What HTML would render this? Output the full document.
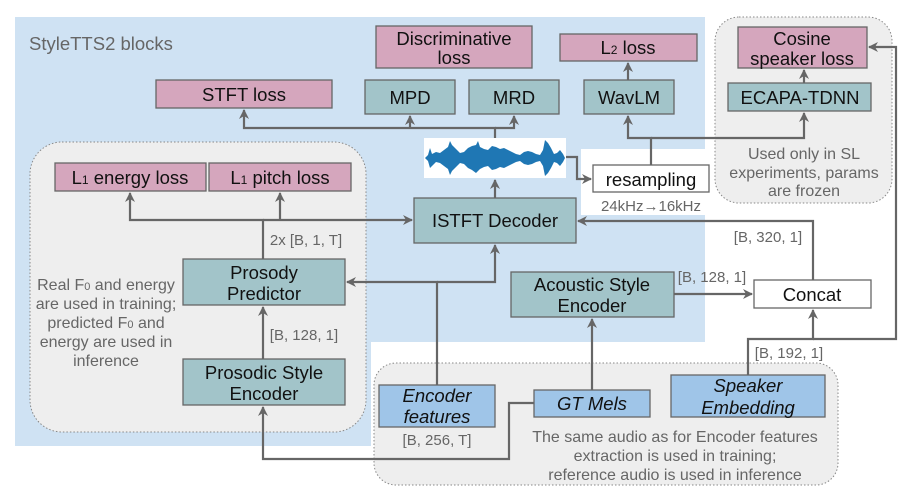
<!DOCTYPE html>
<html><head><meta charset="utf-8"><style>
body{margin:0;background:#fff}
svg{display:block;font-family:"Liberation Sans",sans-serif}
.b{stroke:#666;stroke-width:1.3}
.l{stroke:#666;stroke-width:2.2;fill:none}
.t{font-size:18.5px;fill:#111;text-anchor:middle}
.g{font-size:16px;fill:#666;text-anchor:middle}
.s{font-size:15px;fill:#666;text-anchor:middle}
</style></head><body>
<svg width="914" height="499" viewBox="0 0 914 499">
<defs><marker id="a" markerWidth="10" markerHeight="10" refX="9" refY="5" orient="auto" markerUnits="userSpaceOnUse"><path d="M0,0 L10,5 L0,10 L3,5 z" fill="#666"/></marker></defs>
<path d="M15,17 H705 V149 H581 V215 H705 V342 H371 V446 H15 Z" fill="#cfe2f3"/>
<rect x="30" y="142" width="336" height="290" rx="32" fill="#eeeeee" stroke="#888" stroke-dasharray="1.5 2"/>
<rect x="374" y="363" width="464" height="122" rx="22" fill="#eeeeee" stroke="#888" stroke-dasharray="1.5 2"/>
<rect x="715" y="17" width="177" height="186" rx="24" fill="#eeeeee" stroke="#888" stroke-dasharray="1.5 2"/>
<text x="29" y="50" style="font-size:18.5px;fill:#666">StyleTTS2 blocks</text>

<!-- connectors -->
<path class="l" d="M495,139 V128 H244 V110" marker-end="url(#a)"/>
<path class="l" d="M410,128 V116" marker-end="url(#a)"/>
<path class="l" d="M495,128 H514 V116" marker-end="url(#a)"/>
<path class="l" d="M495,198 V180" marker-end="url(#a)"/>
<path class="l" d="M565,157 H577 V179 H591" marker-end="url(#a)"/>
<path class="l" d="M651,165 V138 H628 V116" marker-end="url(#a)"/>
<path class="l" d="M651,138 H804 V113" marker-end="url(#a)"/>
<path class="l" d="M628,80 V63" marker-end="url(#a)"/>
<path class="l" d="M804,83 V70" marker-end="url(#a)"/>
<path class="l" d="M813,280 V221 H578" marker-end="url(#a)"/>
<path class="l" d="M748,375 V339 H813 V310" marker-end="url(#a)"/>
<path class="l" d="M813,339 H896 V47 H869" marker-end="url(#a)"/>
<path class="l" d="M674,294 H752" marker-end="url(#a)"/>
<path class="l" d="M592,390 V319" marker-end="url(#a)"/>
<path class="l" d="M534,403 H509 V459 H263 V407" marker-end="url(#a)"/>
<path class="l" d="M437,385 V282 H347" marker-end="url(#a)"/>
<path class="l" d="M437,282 H495 V245" marker-end="url(#a)"/>
<path class="l" d="M263,359 V307" marker-end="url(#a)"/>
<path class="l" d="M263,259 V220 H130 V193" marker-end="url(#a)"/>
<path class="l" d="M263,220 H412" marker-end="url(#a)"/>
<path class="l" d="M280,220 V193" marker-end="url(#a)"/>

<!-- boxes -->
<g fill="#d5a6bd" class="b">
<rect x="376" y="26" width="156" height="42"/>
<rect x="156" y="80" width="176" height="28"/>
<rect x="560" y="34" width="137" height="27"/>
<rect x="738" y="27" width="129" height="41"/>
<rect x="55" y="163" width="151" height="28"/>
<rect x="209" y="163" width="142" height="28"/>
</g>
<g fill="#a2c4c9" class="b">
<rect x="365" y="80" width="90" height="34"/>
<rect x="469" y="80" width="90" height="34"/>
<rect x="584" y="80" width="90" height="34"/>
<rect x="728" y="83" width="143" height="28"/>
<rect x="414" y="198" width="162" height="45"/>
<rect x="183" y="259" width="162" height="46"/>
<rect x="183" y="359" width="162" height="46"/>
<rect x="511" y="272" width="163" height="45"/>
</g>
<g fill="#9fc5e8" class="b">
<rect x="379" y="385" width="116" height="42"/>
<rect x="534" y="390" width="116" height="27"/>
<rect x="671" y="375" width="154" height="42"/>
</g>
<g fill="#fff" class="b">
<rect x="593" y="165" width="116" height="27"/>
<rect x="754" y="280" width="117" height="28"/>
</g>
<rect x="424" y="138" width="142" height="40" fill="#fff"/>
<path fill="#1f77b4" d="M425,158 L428,155 430,148 432,154 436,152 440,153 444,150 448,147 450,141 452,145 456,149 460,153 464,152 468,148 472,146 476,145 478,141 480,147 484,149 488,150 492,146 496,147 500,149 504,148 508,150 512,152 516,154 520,155 524,152 528,151 532,152 536,154 540,155 543,150 545,140 548,143 551,148 554,154 557,153 560,150 563,154 565,158 563,162 560,166 557,163 554,162 551,168 548,173 545,176 543,166 540,161 536,162 532,164 528,165 524,164 520,161 516,162 512,164 508,166 504,168 500,167 496,169 492,170 488,166 484,167 480,169 476,173 472,170 468,168 464,164 460,163 456,167 452,171 450,175 448,169 444,166 440,163 436,162 432,166 430,168 428,161 Z"/>

<!-- labels -->
<text class="t" x="454" y="45">Discriminative</text>
<text class="t" x="454" y="64">loss</text>
<text class="t" x="244" y="101">STFT loss</text>
<text class="t" x="410" y="104">MPD</text>
<text class="t" x="514" y="104">MRD</text>
<text class="t" x="629" y="104">WavLM</text>
<text class="t" x="628" y="54">L<tspan font-size="12">2</tspan> loss</text>
<text class="t" x="802" y="45">Cosine</text>
<text class="t" x="802" y="65">speaker loss</text>
<text class="t" x="800" y="104">ECAPA-TDNN</text>
<text class="t" x="130" y="184">L<tspan font-size="12">1</tspan> energy loss</text>
<text class="t" x="280" y="184">L<tspan font-size="12">1</tspan> pitch loss</text>
<text class="t" x="495" y="227">ISTFT Decoder</text>
<text class="t" x="651" y="186">resampling</text>
<text class="t" x="812" y="301">Concat</text>
<text class="t" x="264" y="279">Prosody</text>
<text class="t" x="264" y="300">Predictor</text>
<text class="t" x="264" y="379">Prosodic Style</text>
<text class="t" x="264" y="400">Encoder</text>
<text class="t" x="592" y="291">Acoustic Style</text>
<text class="t" x="592" y="312">Encoder</text>
<text class="t" x="437" y="402" font-style="italic">Encoder</text>
<text class="t" x="437" y="423" font-style="italic">features</text>
<text class="t" x="592" y="410" font-style="italic">GT Mels</text>
<text class="t" x="748" y="392" font-style="italic">Speaker</text>
<text class="t" x="748" y="414" font-style="italic">Embedding</text>

<g class="s">
<text x="651" y="211">24kHz→16kHz</text>
<text x="768" y="242">[B, 320, 1]</text>
<text x="712" y="282">[B, 128, 1]</text>
<text x="789" y="358">[B, 192, 1]</text>
<text x="304" y="340">[B, 128, 1]</text>
<text x="306" y="245">2x [B, 1, T]</text>
<text x="437" y="445">[B, 256, T]</text>
</g>
<g class="g">
<text x="804" y="159">Used only in SL</text>
<text x="804" y="178">experiments, params</text>
<text x="804" y="196">are frozen</text>
<text x="106" y="290">Real F<tspan font-size="11">0</tspan> and energy</text>
<text x="106" y="309">are used in training;</text>
<text x="106" y="328">predicted F<tspan font-size="11">0</tspan> and</text>
<text x="106" y="347">energy are used in</text>
<text x="106" y="366">inference</text>
<text x="675" y="442">The same audio as for Encoder features</text>
<text x="675" y="461">extraction is used in training;</text>
<text x="675" y="480">reference audio is used in inference</text>
</g>
</svg>
</body></html>
